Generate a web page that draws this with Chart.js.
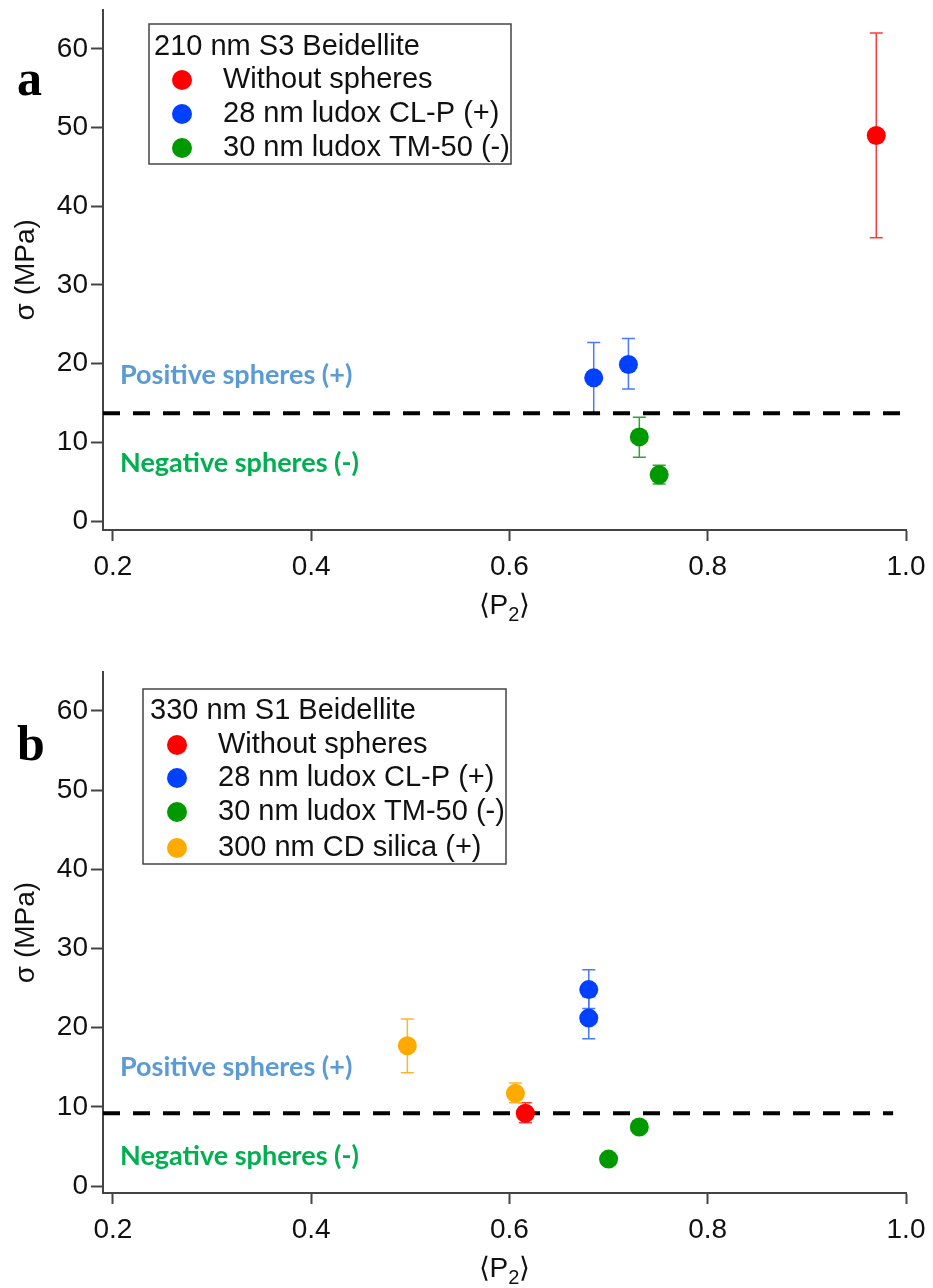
<!DOCTYPE html>
<html lang="en">
<head>
<meta charset="UTF-8">
<title>Stress vs order parameter</title>
<script src="https://cdn.jsdelivr.net/npm/chart.js"></script>
<style>
  html, body { margin: 0; padding: 0; background: #fff; overflow: hidden; }
  body { width: 933px; height: 1288px; position: relative; }
  .panel { position: absolute; left: 0; width: 933px; height: 640px; }
  #panelA { top: 0; }
  #panelB { top: 648px; }
</style>
</head>
<body>
<div class="panel" id="panelA"><canvas id="chartA" width="933" height="640"></canvas></div>
<div class="panel" id="panelB"><canvas id="chartB" width="933" height="640"></canvas></div>
<script>
// axis ticks
const xTicks = [0.2, 0.4, 0.6, 0.8, 1.0];
const yTicks = [0, 10, 20, 30, 40, 50, 60];

const seriesNames = ['Without spheres', '28 nm ludox CL-P (+)', '30 nm ludox TM-50 (-)', '300 nm CD silica (+)'];

// panel a : 210 nm S3 Beidellite
const aP2    = [[0.970], [0.685, 0.720], [0.731, 0.751]];
const aSigma = [[49.0],  [18.2, 19.9],   [10.7, 5.9]];
const aLow   = [[36.0],  [13.6, 16.8],   [8.1, 4.7]];
const aHigh  = [[62.0],  [22.7, 23.2],   [13.2, 7.1]];
const aCut   = 13.7;
const aCutX  = [0.19, 1.0];

// panel b : 330 nm S1 Beidellite
const bP2    = [[0.616], [0.680, 0.680], [0.700, 0.731], [0.497, 0.606]];
const bSigma = [[9.2],   [24.8, 21.2],   [3.4, 7.45],    [17.7, 11.7]];
const bLow   = [[8.0],   [22.4, 18.6],   [null, null],   [14.3, 10.5]];
const bHigh  = [[10.5],  [27.3, 23.9],   [null, null],   [21.1, 13.0]];
const bCut   = 9.2;
const bCutX  = [0.19, 0.987];

const dotColors = ['#ff0000', '#0040ff', '#009900', '#ffaa00'];
const barColors = ['#ff3b3b', '#4a78ff', '#2ea62e', '#ffb52e'];
const sans = '"Liberation Sans", Arial, sans-serif';
const axisColor = '#444';

// error bars, legend box, panel letter, x title and side notes
const extrasPlugin = {
  id: 'extras',
  beforeDatasetsDraw(chart) {
    const p = chart.options.plugins.extras;
    const xs = chart.scales.x, ys = chart.scales.y;
    const ctx = chart.ctx;
    ctx.save();
    ctx.lineWidth = 1.5;
    p.xs.forEach((arr, i) => {
      ctx.strokeStyle = barColors[i];
      arr.forEach((v, j) => {
        const lo = p.lows[i][j], hi = p.highs[i][j];
        if (lo == null || hi == null) return;
        const px = xs.getPixelForValue(v);
        const y1 = ys.getPixelForValue(lo), y2 = ys.getPixelForValue(hi);
        ctx.beginPath();
        ctx.moveTo(px, y1); ctx.lineTo(px, y2);
        ctx.moveTo(px - 6.5, y1); ctx.lineTo(px + 6.5, y1);
        ctx.moveTo(px - 6.5, y2); ctx.lineTo(px + 6.5, y2);
        ctx.stroke();
      });
    });
    ctx.restore();
  },
  afterDraw(chart) {
    const p = chart.options.plugins.extras;
    const ctx = chart.ctx;
    const L = p.legend;
    const area = chart.chartArea;
    ctx.save();
    // legend box
    ctx.fillStyle = '#fff';
    ctx.fillRect(L.x, L.y, L.w, L.h);
    ctx.strokeStyle = '#444';
    ctx.lineWidth = 1.5;
    ctx.strokeRect(L.x, L.y, L.w, L.h);
    ctx.font = '29px ' + sans;
    ctx.textBaseline = 'middle';
    ctx.textAlign = 'left';
    ctx.fillStyle = '#111';
    ctx.fillText(p.title, L.titleX, L.rows[0]);
    p.xs.forEach((arr, i) => {
      const cy = L.rows[i + 1];
      ctx.fillStyle = dotColors[i];
      ctx.beginPath();
      ctx.arc(L.dotX, cy, 10, 0, Math.PI * 2);
      ctx.fill();
      ctx.fillStyle = '#111';
      ctx.fillText(seriesNames[i], L.textX, cy);
    });
    // x title <P2> with a real subscript
    const big = '28px ' + sans, small = '20px ' + sans;
    ctx.font = big;
    const wA = ctx.measureText('⟨P').width, wC = ctx.measureText('⟩').width;
    ctx.font = small;
    const wB = ctx.measureText('2').width;
    let tx = (area.left + area.right) / 2 - (wA + wB + wC) / 2;
    const ty = area.bottom + 76;
    ctx.fillStyle = '#111';
    ctx.font = big;
    ctx.fillText('⟨P', tx, ty);
    ctx.font = small;
    ctx.fillText('2', tx + wA, ty + 9);
    ctx.font = big;
    ctx.fillText('⟩', tx + wA + wB, ty);
    // side notes
    ctx.font = 'bold 27px Lato, "Open Sans", sans-serif';
    ctx.fillStyle = '#5b9bd5';
    ctx.fillText('Positive spheres (+)', 120, p.posY);
    ctx.fillStyle = '#00b050';
    ctx.fillText('Negative spheres (-)', 120, p.negY);
    // panel letter
    ctx.font = 'bold 50px "Liberation Serif", "Times New Roman", serif';
    ctx.fillStyle = '#000';
    ctx.textBaseline = 'alphabetic';
    ctx.fillText(p.letter, 17, p.letterY);
    ctx.restore();
  }
};

function makePanel(id, cfg) {
  const H = 640;
  const datasets = cfg.xs.map((arr, i) => ({
    type: 'scatter',
    label: seriesNames[i],
    data: arr.map((v, j) => ({ x: v, y: cfg.ys[i][j] })),
    backgroundColor: dotColors[i],
    borderWidth: 0,
    pointRadius: 9.5,
    pointHoverRadius: 9.5
  }));
  // dashed threshold line, drawn underneath
  datasets.push({
    type: 'line',
    label: 'threshold',
    data: [{ x: cfg.cutX[0], y: cfg.cut }, { x: cfg.cutX[1], y: cfg.cut }],
    borderColor: '#000',
    borderWidth: 4,
    borderDash: [17, 13],
    pointRadius: 0,
    fill: false
  });

  new Chart(document.getElementById(id), {
    type: 'scatter',
    data: { datasets },
    options: {
      responsive: false,
      animation: false,
      layout: { padding: { left: 0, top: cfg.top, right: 933 - 906, bottom: 0 } },
      plugins: {
        legend: { display: false },
        tooltip: { enabled: false },
        extras: {
          xs: cfg.xs, lows: cfg.lows, highs: cfg.highs,
          title: cfg.title, legend: cfg.legend,
          posY: cfg.posY, negY: cfg.negY,
          letter: cfg.letter, letterY: cfg.letterY
        }
      },
      scales: {
        x: {
          type: 'linear',
          min: 0.19, max: 1.0,
          afterBuildTicks: s => { s.ticks = xTicks.map(v => ({ value: v })); },
          afterFit: s => { s.height = H - cfg.bottom; s.paddingLeft = 0; s.paddingRight = 0; },
          grid: { drawOnChartArea: false, drawTicks: true, tickLength: 11, tickColor: axisColor, tickWidth: 2 },
          border: { display: true, color: axisColor, width: 2 },
          ticks: { color: '#111', font: { family: sans, size: 28 }, padding: 9, callback: v => v.toFixed(1) },
          title: { display: false }
        },
        y: {
          type: 'linear',
          min: cfg.yMin, max: cfg.yMax,
          afterBuildTicks: s => { s.ticks = yTicks.map(v => ({ value: v })); },
          afterFit: s => { s.width = 103; s.paddingTop = 0; s.paddingBottom = 0; },
          grid: { drawOnChartArea: false, drawTicks: true, tickLength: 12, tickColor: axisColor, tickWidth: 2 },
          border: { display: true, color: axisColor, width: 2 },
          ticks: { color: '#111', font: { family: sans, size: 28 }, padding: 3 },
          title: { display: true, text: 'σ (MPa)', color: '#111', font: { family: sans, size: 28 }, padding: { top: 9, bottom: 0 } }
        }
      }
    },
    plugins: [extrasPlugin]
  });
}

makePanel('chartA', {
  title: '210 nm S3 Beidellite', letter: 'a', letterY: 95,
  xs: aP2, ys: aSigma, lows: aLow, highs: aHigh, cut: aCut, cutX: aCutX,
  top: 5, bottom: 530, yMin: -1.13, yMax: 65.0,
  legend: { x: 149, y: 24, w: 362, h: 140, titleX: 154, dotX: 182, textX: 223, rows: [47, 80, 114, 148] },
  posY: 375, negY: 463
});

makePanel('chartB', {
  title: '330 nm S1 Beidellite', letter: 'b', letterY: 112,
  xs: bP2, ys: bSigma, lows: bLow, highs: bHigh, cut: bCut, cutX: bCutX,
  top: 24, bottom: 545, yMin: -0.88, yMax: 64.9,
  legend: { x: 143, y: 41, w: 363, h: 175, titleX: 150, dotX: 177, textX: 218, rows: [63, 97, 130, 164, 200] },
  posY: 419, negY: 508
});
</script>
</body>
</html>
